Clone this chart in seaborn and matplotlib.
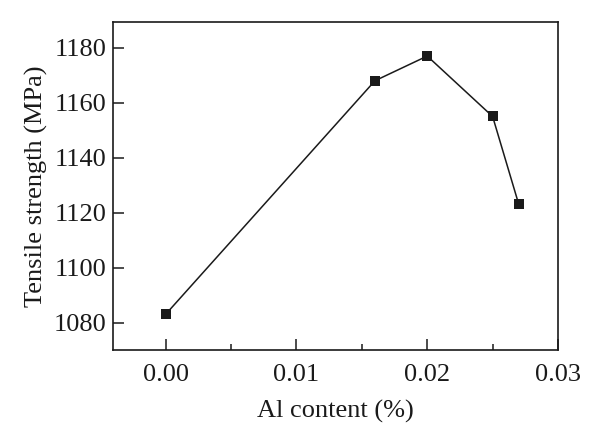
import pandas as pd
import matplotlib
matplotlib.use("Agg")
import matplotlib.pyplot as plt
import seaborn as sns
from matplotlib.ticker import MultipleLocator, FormatStrFormatter

# data
al_content = [0.000, 0.016, 0.020, 0.025, 0.027]
tensile_strength = [1083, 1168, 1177, 1155, 1123]

df = pd.DataFrame({"al": al_content, "ts": tensile_strength})

sns.set_theme(style="ticks")
plt.rcParams["font.family"] = ["Liberation Serif", "DejaVu Serif"]

fig = plt.figure(figsize=(6, 4.43), dpi=100)
ax = fig.add_axes([0.189, 0.21, 0.741, 0.741])

sns.lineplot(data=df, x="al", y="ts", ax=ax, color="#1a1a1a",
             marker="s", markersize=6.5, markeredgewidth=0, linewidth=1.1)

ax.set_xlim(-0.004, 0.03)
ax.set_ylim(1070, 1189.5)
ax.xaxis.set_major_locator(MultipleLocator(0.01))
ax.xaxis.set_minor_locator(MultipleLocator(0.005))
ax.yaxis.set_major_locator(MultipleLocator(20))
ax.xaxis.set_major_formatter(FormatStrFormatter("%.2f"))

for sp in ax.spines.values():
    sp.set_visible(True)
    sp.set_color("#1a1a1a")
    sp.set_linewidth(1.2)

ax.tick_params(axis="both", which="major", direction="in", length=8, width=1.1,
               color="#1a1a1a", labelsize=19, labelcolor="#1a1a1a")
ax.tick_params(axis="x", which="major", pad=10)
ax.tick_params(axis="y", which="major", pad=5)
ax.tick_params(axis="x", which="minor", direction="in", length=4, width=1.1,
               color="#1a1a1a")
ax.tick_params(top=False, right=False, which="both")

ax.set_xlabel("Al content (%)", fontsize=19, color="#1a1a1a", labelpad=10)
ax.set_ylabel("Tensile strength (MPa)", fontsize=19, color="#1a1a1a", labelpad=4)

fig.savefig("out.png", dpi=100)
